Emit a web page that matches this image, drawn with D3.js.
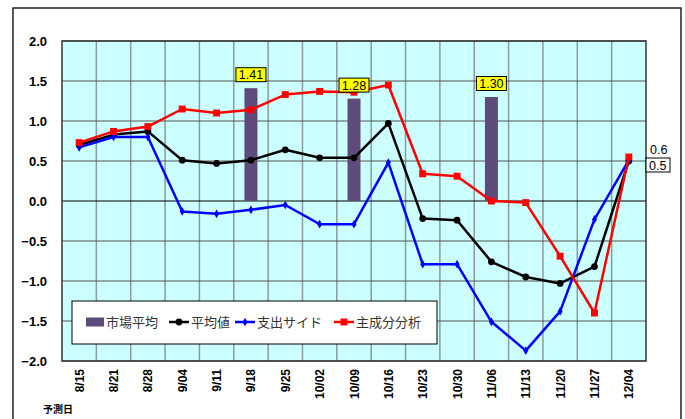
<!DOCTYPE html>
<html>
<head>
<meta charset="utf-8">
<script src="https://cdn.jsdelivr.net/npm/d3@7"></script>
<style>
  body { margin: 0; background: #fff; }
  svg { display: block; }
</style>
</head>
<body>
<div id="chart"></div>
<script>
const width = 685
const height = 419

// data
const dates = ["8/15", "8/21", "8/28", "9/04", "9/11", "9/18", "9/25", "10/02", "10/09",
  "10/16", "10/23", "10/30", "11/06", "11/13", "11/20", "11/27", "12/04"]
const marketAvg = [null, null, null, null, null, 1.41, null, null, 1.28,
  null, null, null, 1.30, null, null, null, null]
const average = [0.70, 0.83, 0.87, 0.51, 0.47, 0.51, 0.64, 0.54, 0.54,
  0.97, -0.22, -0.24, -0.76, -0.95, -1.03, -0.82, 0.50]
const spending = [0.67, 0.80, 0.80, -0.13, -0.16, -0.11, -0.05, -0.29, -0.29,
  0.48, -0.79, -0.79, -1.51, -1.87, -1.38, -0.23, 0.51]
const pca = [0.73, 0.87, 0.93, 1.15, 1.10, 1.14, 1.33, 1.37, 1.36,
  1.45, 0.34, 0.31, 0.00, -0.02, -0.69, -1.40, 0.55]
const yTicks = [2.0, 1.5, 1.0, 0.5, 0.0, -0.5, -1.0, -1.5, -2.0]
const legendNames = ["市場平均", "平均値", "支出サイド", "主成分分析"]

const jp = "'Noto Sans CJK JP', sans-serif"
const latin = "'Liberation Sans', Arial, sans-serif"

const svg = d3.select("#chart").append("svg")
  .attr("width", width)
  .attr("height", height)

// outer frame
svg.append("rect")
  .attr("x", 13).attr("y", 8)
  .attr("width", 668).attr("height", 420)
  .attr("fill", "#fff")
  .attr("stroke", "#222")
  .attr("stroke-width", 1.5)

const plot = { left: 62, top: 41, right: 646, bottom: 361 }

const x = d3.scaleBand().domain(dates).range([plot.left, plot.right])
const y = d3.scaleLinear().domain([-2, 2]).range([plot.bottom, plot.top])
const cx = d => x(d) + x.bandwidth() / 2

// plot background
svg.append("rect")
  .attr("x", plot.left).attr("y", plot.top)
  .attr("width", plot.right - plot.left).attr("height", plot.bottom - plot.top)
  .attr("fill", "#ccffff")

// vertical grid between categories
svg.append("g").selectAll("line")
  .data(dates.slice(1))
  .join("line")
  .attr("x1", d => x(d)).attr("x2", d => x(d))
  .attr("y1", plot.top).attr("y2", plot.bottom)
  .attr("stroke", "#8c9a9a")
  .attr("stroke-width", 1.5)

// horizontal grid
svg.append("g").selectAll("line")
  .data(yTicks)
  .join("line")
  .attr("x1", plot.left).attr("x2", plot.right)
  .attr("y1", d => y(d)).attr("y2", d => y(d))
  .attr("stroke", d => d === 0 ? "#000" : "#555")
  .attr("stroke-width", d => d === 0 ? 1.2 : 1)

// plot border
svg.append("rect")
  .attr("x", plot.left).attr("y", plot.top)
  .attr("width", plot.right - plot.left).attr("height", plot.bottom - plot.top)
  .attr("fill", "none")
  .attr("stroke", "#333")
  .attr("stroke-width", 1.5)

// y axis labels
const yAxis = d3.axisLeft(y).tickValues(yTicks).tickFormat(d3.format(".1f")).tickSize(0).tickPadding(15)
svg.append("g")
  .attr("transform", `translate(${plot.left},0)`)
  .call(yAxis)
  .call(g => g.select(".domain").remove())
  .selectAll("text")
  .attr("font-family", latin)
  .attr("font-weight", "bold")
  .attr("font-size", 13)
  .attr("fill", "#000")

// x axis labels, rotated
svg.append("g").selectAll("text")
  .data(dates)
  .join("text")
  .attr("transform", d => `translate(${cx(d) + 4.5},${plot.bottom + 8}) rotate(-90)`)
  .attr("text-anchor", "end")
  .attr("font-family", latin)
  .attr("font-weight", "bold")
  .attr("font-size", 12)
  .text(d => d)

svg.append("text")
  .attr("x", 43).attr("y", 413)
  .attr("font-family", jp)
  .attr("font-weight", "bold")
  .attr("font-size", 10)
  .text("予測日")

// bars: market average
const barW = 13
const bars = dates.map((d, i) => ({ d, v: marketAvg[i] })).filter(b => b.v !== null)
svg.append("g").selectAll("rect")
  .data(bars)
  .join("rect")
  .attr("x", b => cx(b.d) - barW / 2)
  .attr("y", b => y(b.v))
  .attr("width", barW)
  .attr("height", b => y(0) - y(b.v))
  .attr("fill", "#5f4b7b")

// lines
const line = d3.line().x((v, i) => cx(dates[i])).y(v => y(v))
const series = [
  { values: average, color: "#000", marker: "circle" },
  { values: spending, color: "#0000ff", marker: "diamond" },
  { values: pca, color: "#ff0000", marker: "square" }
]
const markerShape = {
  circle: d3.symbol().type(d3.symbolCircle).size(36),
  diamond: d3.symbol().type(d3.symbolDiamond).size(22),
  square: d3.symbol().type(d3.symbolSquare).size(48)
}

series.forEach(s => {
  svg.append("path")
    .datum(s.values)
    .attr("d", line)
    .attr("fill", "none")
    .attr("stroke", s.color)
    .attr("stroke-width", 2.5)
    .attr("stroke-linejoin", "round")
  svg.append("g").selectAll("path")
    .data(s.values)
    .join("path")
    .attr("transform", (v, i) => `translate(${cx(dates[i])},${y(v)})`)
    .attr("d", markerShape[s.marker])
    .attr("fill", s.color)
})

// bar value labels
const lab = svg.append("g").selectAll("g")
  .data(bars)
  .join("g")
  .attr("transform", b => `translate(${cx(b.d)},${y(b.v) - 13.5})`)
lab.append("rect")
  .attr("x", -15).attr("y", -7)
  .attr("width", 30).attr("height", 14)
  .attr("fill", "#ffff00")
  .attr("stroke", "#000")
  .attr("stroke-width", 1)
lab.append("text")
  .attr("text-anchor", "middle")
  .attr("dy", "0.36em")
  .attr("font-family", latin)
  .attr("font-size", 12.5)
  .text(b => b.v.toFixed(2))

// end labels
const last = dates.length - 1
svg.append("text")
  .attr("x", 650).attr("y", y(pca[last]) - 3)
  .attr("font-family", latin)
  .attr("font-size", 12.5)
  .text(pca[last].toFixed(1))
svg.append("rect")
  .attr("x", 646).attr("y", y(average[last]) - 3)
  .attr("width", 24).attr("height", 14)
  .attr("fill", "#fff")
  .attr("stroke", "#000")
svg.append("text")
  .attr("x", 649).attr("y", y(average[last]) + 8.5)
  .attr("font-family", latin)
  .attr("font-size", 12.5)
  .text(average[last].toFixed(1))

// legend
const lg = svg.append("g").attr("transform", "translate(72,301)")
lg.append("rect")
  .attr("width", 365).attr("height", 43)
  .attr("fill", "#fff")
  .attr("stroke", "#000")
  .attr("stroke-width", 1)
const legendX = [14, 97, 163, 262]
const legendColors = ["#5f4b7b", "#000", "#0000ff", "#ff0000"]
const legendMarkers = [null, "circle", "diamond", "square"]
legendNames.forEach((name, i) => {
  const g = lg.append("g").attr("transform", `translate(${legendX[i]},21)`)
  if (i === 0) {
    g.append("rect").attr("x", 0).attr("y", -4.5).attr("width", 18).attr("height", 9)
      .attr("fill", legendColors[i])
  } else {
    g.append("line").attr("x1", 0).attr("x2", 20).attr("y1", 0).attr("y2", 0)
      .attr("stroke", legendColors[i]).attr("stroke-width", 2.5)
    g.append("path").attr("transform", "translate(10,0)")
      .attr("d", markerShape[legendMarkers[i]]).attr("fill", legendColors[i])
  }
  g.append("text")
    .attr("x", i === 0 ? 20 : 22)
    .attr("dy", "0.35em")
    .attr("font-family", jp)
    .attr("font-size", 13)
    .attr("fill", "#333")
    .text(name)
})
</script>
</body>
</html>
